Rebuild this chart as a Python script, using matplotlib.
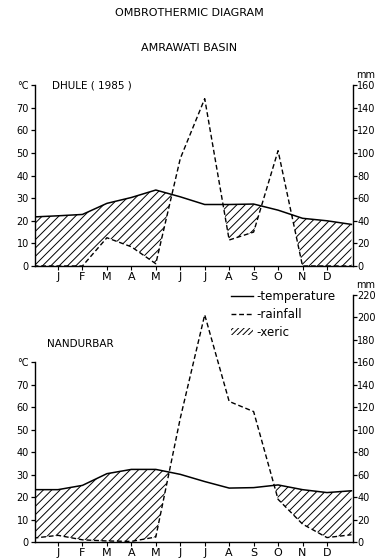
import numpy as np
import matplotlib
matplotlib.use("Agg")
import matplotlib.pyplot as plt
from matplotlib.lines import Line2D
from matplotlib.patches import Patch

# month labels; positions 1..12, with carry-over points at 0 and 13 (previous Dec / next Jan)
months = ["J", "F", "M", "A", "M", "J", "J", "A", "S", "O", "N", "D"]

# Dhule (1985): temperature in degC, rainfall in mm (14 points: edge, J..D, edge)
dhule_temp = [21.7, 22.2, 22.8, 27.7, 30.3, 33.6, 30.6, 27.2, 27.2, 27.4, 24.7, 21.1, 20.0, 18.4]
dhule_rain = [0, 0, 0, 25, 17, 2, 95, 148, 23, 30, 102, 0, 0, 0]

# Nandurbar: temperature in degC, rainfall in mm
nandurbar_temp = [23.3, 23.3, 25.2, 30.4, 32.3, 32.3, 30.1, 26.9, 24.0, 24.2, 25.4, 23.3, 22.0, 22.8]
nandurbar_rain = [3.5, 6, 2, 1, 0.6, 4.5, 110, 202, 125, 116, 38, 16, 4, 6.5]

temp_ticks = [0, 10, 20, 30, 40, 50, 60, 70, 80]
temp_labels = ["0", "10", "20", "30", "40", "50", "60", "70", "°C"]

plt.rcParams["font.family"] = ["DejaVu Sans"]
plt.rcParams["hatch.linewidth"] = 0.7

fig = plt.figure(figsize=(3.78, 5.6), dpi=100)
fig.text(0.5, 0.977, "OMBROTHERMIC DIAGRAM", ha="center", va="center", fontsize=8)
fig.text(0.5, 0.915, "AMRAWATI BASIN", ha="center", va="center", fontsize=8)

DASH = (0, (3.5, 2))


def draw_panel(ax, temp, rain, ytop, rain_max):
    x = np.arange(len(temp))
    temp = np.array(temp, dtype=float)
    half_rain = np.array(rain, dtype=float) / 2.0  # 1 degC = 2 mm
    ax.plot(x, temp, color="black", lw=1.1)
    ax.plot(x, half_rain, color="black", lw=1.0, ls=DASH)
    ax.fill_between(x, half_rain, temp, where=temp > half_rain, interpolate=True,
                    facecolor="none", edgecolor="black", hatch="////", lw=0)
    ax.set_xlim(0.06, 13.06)
    ax.set_ylim(0, ytop)
    ax.set_xticks(range(1, 13))
    ax.set_xticklabels(months, fontsize=8)
    ax.tick_params(axis="x", length=3, width=0.8, pad=1.5)
    ax.set_yticks(temp_ticks)
    ax.set_yticklabels(temp_labels, fontsize=7)
    ax.tick_params(axis="y", length=3, width=0.9, pad=1.5)
    ax.spines["top"].set_visible(False)
    ax.spines["right"].set_visible(False)
    ax.spines["left"].set_bounds(0, 80)
    for s in ("left", "bottom"):
        ax.spines[s].set_linewidth(1.0)

    sec = ax.secondary_yaxis("right", functions=(lambda t: t * 2, lambda m: m / 2))
    sec.set_yticks(np.arange(0, rain_max + 1, 20))
    sec.tick_params(axis="y", length=3, width=0.9, pad=0, labelsize=7)
    sec.spines["right"].set_linewidth(1.0)
    ax.annotate("mm", xy=(1, 1), xycoords="axes fraction", xytext=(9, 3.5),
                textcoords="offset points", fontsize=7, ha="center", va="bottom")
    return ax


ax1 = fig.add_axes([0.0926, 0.525, 0.841, 0.323])
draw_panel(ax1, dhule_temp, dhule_rain, 80, 160)
ax1.text(0.75, 80, "DHULE ( 1985 )", fontsize=7.5, va="center", ha="left")

ax2 = fig.add_axes([0.0926, 0.032, 0.841, 0.442])
draw_panel(ax2, nandurbar_temp, nandurbar_rain, 110, 220)
ax2.text(0.55, 88, "NANDURBAR", fontsize=7.5, va="center", ha="left")

handles = [Line2D([], [], color="black", lw=1.0),
           Line2D([], [], color="black", lw=1.0, ls=DASH),
           Patch(facecolor="none", edgecolor="black", lw=0, hatch="//////")]
fig.legend(handles, ["-temperature", "-rainfall", "-xeric"], loc="upper left",
           bbox_to_anchor=(0.61, 0.482), frameon=False, fontsize=8.5,
           handlelength=1.9, handleheight=0.5, handletextpad=0.3, labelspacing=0.42,
           borderaxespad=0, borderpad=0)

fig.savefig("out.png", dpi=100)
